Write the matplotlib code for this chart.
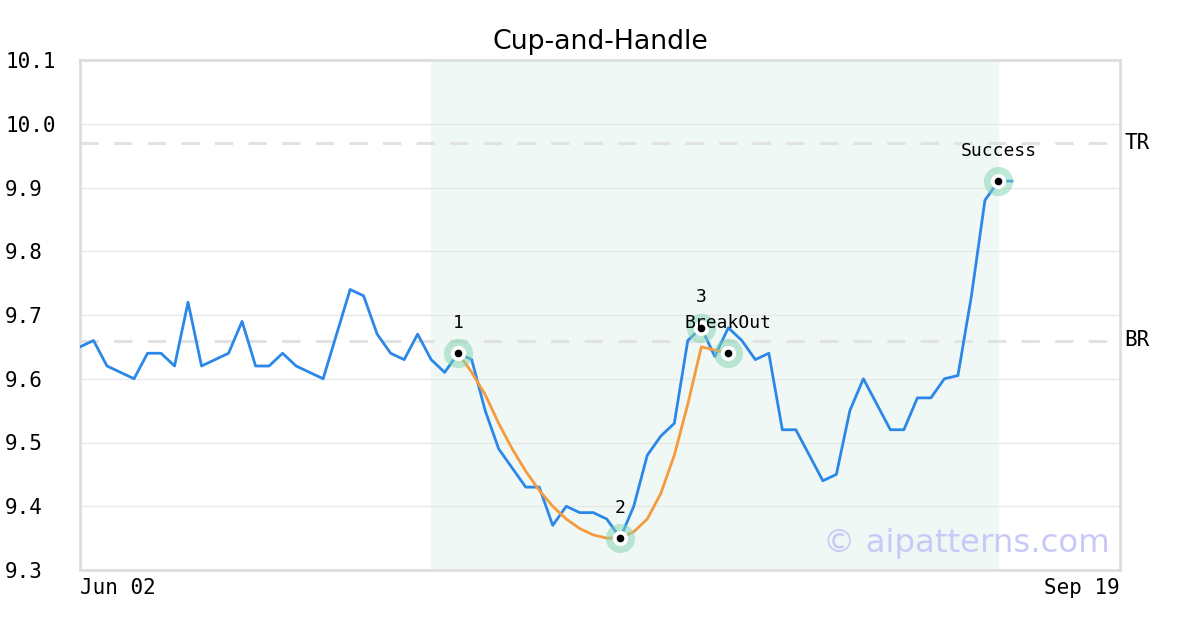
import numpy as np
import matplotlib
matplotlib.use("Agg")
import matplotlib.pyplot as plt

# closing prices, one per trading day (index 0 = Jun 02)
price = [9.65, 9.66, 9.62, 9.61, 9.60, 9.64, 9.64, 9.62, 9.72, 9.62,
         9.63, 9.64, 9.69, 9.62, 9.62, 9.64, 9.62, 9.61, 9.60, 9.67,
         9.74, 9.73, 9.67, 9.64, 9.63, 9.67, 9.63, 9.61, 9.64, 9.63,
         9.55, 9.49, 9.46, 9.43, 9.43, 9.37, 9.40, 9.39, 9.39, 9.38,
         9.35, 9.40, 9.48, 9.51, 9.53, 9.66, 9.68, 9.635, 9.68, 9.66,
         9.63, 9.64, 9.52, 9.52, 9.48, 9.44, 9.45, 9.55, 9.60, 9.56,
         9.52, 9.52, 9.57, 9.57, 9.60, 9.605, 9.73, 9.88, 9.91, 9.91]

# fitted cup curve (index 28..48)
cup_start = 28
cup = [9.64, 9.61, 9.575, 9.53, 9.49, 9.455, 9.425, 9.40, 9.38, 9.365,
       9.355, 9.35, 9.35, 9.36, 9.38, 9.42, 9.48, 9.56, 9.65, 9.645, 9.64]

# pattern points
pt_x = [28, 40, 46, 48, 68]
pt_y = [9.64, 9.35, 9.68, 9.64, 9.91]
pt_labels = ["1", "2", "3", "BreakOut", "Success"]

pattern_span = (26, 68)
top_resist = 9.97
break_resist = 9.66
x_end = 77.0
tick_labels = ["Jun 02", "Sep 19"]

mono = "DejaVu Sans Mono"

fig = plt.figure(figsize=(12, 6.3), dpi=100)
ax = fig.add_axes([80/1200, 60/630, 1040/1200, 510/630])

ax.axvspan(pattern_span[0], pattern_span[1], color="#eff8f4", zorder=0)
ax.axhline(top_resist, color="#e2e2e2", lw=2.2, dashes=(6, 5), zorder=1)
ax.axhline(break_resist, color="#e2e2e2", lw=2.2, dashes=(6, 5), zorder=1)

x = np.arange(len(price))
ax.plot(x, price, color="#2b87e8", lw=2, zorder=3)
cx = np.arange(cup_start, cup_start + len(cup))
ax.plot(cx, cup, color="#f79a3e", lw=2, zorder=4)

ax.plot(pt_x, pt_y, "o", ms=21, color="#80d4b0", alpha=0.5, mec="none", zorder=5)
ax.plot(pt_x, pt_y, "o", ms=11, color="white", mec="none", zorder=6)
ax.plot(pt_x, pt_y, "o", ms=5.5, color="black", mec="none", zorder=7)
for px, py, lab in zip(pt_x, pt_y, pt_labels):
    ax.annotate(lab, (px, py), xytext=(0, 22), textcoords="offset points",
                ha="center", va="center", fontsize=13, family=mono, zorder=8)

ax.text(1.004, top_resist, "TR", transform=ax.get_yaxis_transform(),
        ha="left", va="center", fontsize=15, family=mono)
ax.text(1.004, break_resist, "BR", transform=ax.get_yaxis_transform(),
        ha="left", va="center", fontsize=15, family=mono)

ax.text(0.99, 0.052, "\u00a9 aipatterns.com", transform=ax.transAxes,
        ha="right", va="center", fontsize=23.3, color="#c9c9f7", zorder=9)

ax.set_xlim(0, x_end)
ax.set_ylim(9.3, 10.1)
ax.set_yticks(np.arange(9.3, 10.101, 0.1))
ax.set_yticklabels([f"{v:.1f}" for v in np.arange(9.3, 10.101, 0.1)],
                   family=mono, fontsize=15, ha="left")
ax.set_xticks([0, x_end])
ax.set_xticklabels(tick_labels, family=mono, fontsize=15)
xl = ax.get_xticklabels()
xl[0].set_ha("left")
xl[1].set_ha("right")

ax.tick_params(axis="y", length=0, pad=54)
ax.tick_params(axis="x", length=0, pad=6)
ax.yaxis.grid(True, color="#e8e8e8", lw=1)
ax.set_axisbelow(True)
for s in ax.spines.values():
    s.set_color("#dddddd")
    s.set_linewidth(2)

ax.set_title("Cup-and-Handle", fontsize=19.3, pad=8)

fig.savefig("out.png", dpi=100)
